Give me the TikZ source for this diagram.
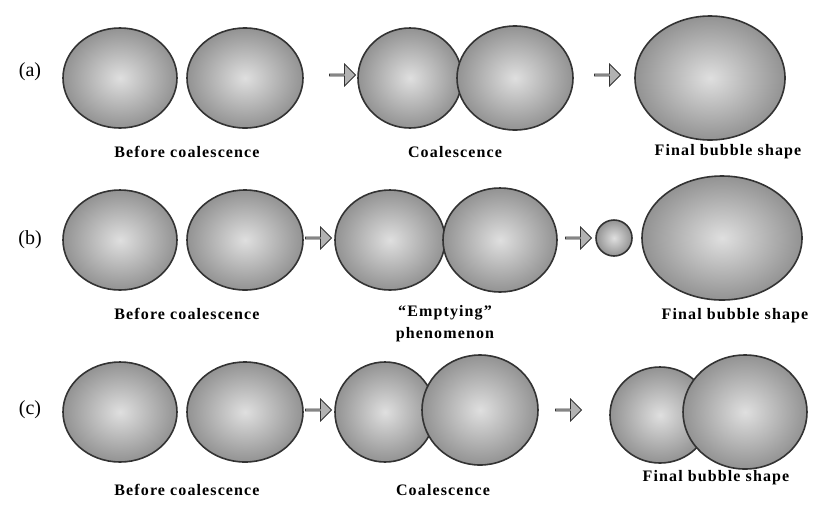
\documentclass[tikz,border=0pt]{standalone}
\usepackage{fontspec}
\setmainfont{Liberation Serif}
\usetikzlibrary{shapes.geometric,shapes.arrows}
\begin{document}
\begin{tikzpicture}[x=1pt,y=-1pt,
 bub/.style={ellipse,draw=black!80,line width=1.6pt,inner color=gray!25,outer color=gray!85},
 blk/.style={single arrow,draw=gray!40!black,fill=gray!60,minimum width=22pt,single arrow head extend=4pt,minimum height=26pt,inner sep=0pt,line width=0.8pt},
 lbl/.style={font=\bfseries\fontsize{16}{22}\selectfont\addfontfeature{LetterSpace=7},align=center},
 tag/.style={font=\fontsize{20}{24}\selectfont}]
\useasboundingbox (0,0) rectangle (821,515);
% row a
\node[tag] (ta) at (30,72) {(a)};
\node[bub,minimum width=114pt,minimum height=100pt] (a1) at (120,78) {};
\node[bub,minimum width=116pt,minimum height=100pt] (a2) at (245,78) {};
\node[blk] (aa1) at (342,75) {};
\node[bub,minimum width=104pt,minimum height=100pt] (a3) at (410,78) {};
\node[bub,minimum width=116pt,minimum height=104pt] (a4) at (515,78) {};
\node[blk] (aa2) at (607,75) {};
\node[bub,minimum width=150pt,minimum height=124pt] (a5) at (710,78) {};
\node[lbl] (la1) at (187,152) {Before coalescence};
\node[lbl] (la2) at (455,152) {Coalescence};
\node[lbl] (la3) at (728,152) {Final bubble shape};
% row b
\node[tag] (tb) at (30,240) {(b)};
\node[bub,minimum width=114pt,minimum height=100pt] (b1) at (120,240) {};
\node[bub,minimum width=116pt,minimum height=100pt] (b2) at (245,240) {};
\node[blk] (ba1) at (318,238) {};
\node[bub,minimum width=110pt,minimum height=100pt] (b3) at (390,240) {};
\node[bub,minimum width=114pt,minimum height=104pt] (b4) at (500,240) {};
\node[blk] (ba2) at (578,238) {};
\node[bub,minimum width=36pt,minimum height=36pt] (b5) at (614,238) {};
\node[bub,minimum width=160pt,minimum height=124pt] (b6) at (722,238) {};
\node[lbl] (lb1) at (187,314) {Before coalescence};
\node[lbl] (lb2) at (445,324) {``Emptying''\\phenomenon};
\node[lbl] (lb3) at (735,316) {Final bubble shape};
% row c
\node[tag] (tc) at (30,410) {(c)};
\node[bub,minimum width=114pt,minimum height=100pt] (c1) at (120,412) {};
\node[bub,minimum width=116pt,minimum height=100pt] (c2) at (245,412) {};
\node[blk] (ca1) at (318,410) {};
\node[bub,minimum width=100pt,minimum height=100pt] (c3) at (385,412) {};
\node[bub,minimum width=116pt,minimum height=110pt] (c4) at (480,410) {};
\node[blk] (ca2) at (568,410) {};
\node[bub,minimum width=100pt,minimum height=96pt] (c5) at (660,415) {};
\node[bub,minimum width=124pt,minimum height=114pt] (c6) at (745,412) {};
\node[lbl] (lc1) at (187,490) {Before coalescence};
\node[lbl] (lc2) at (443,490) {Coalescence};
\node[lbl] (lc3) at (716,478) {Final bubble shape};
\end{tikzpicture}
\end{document}
